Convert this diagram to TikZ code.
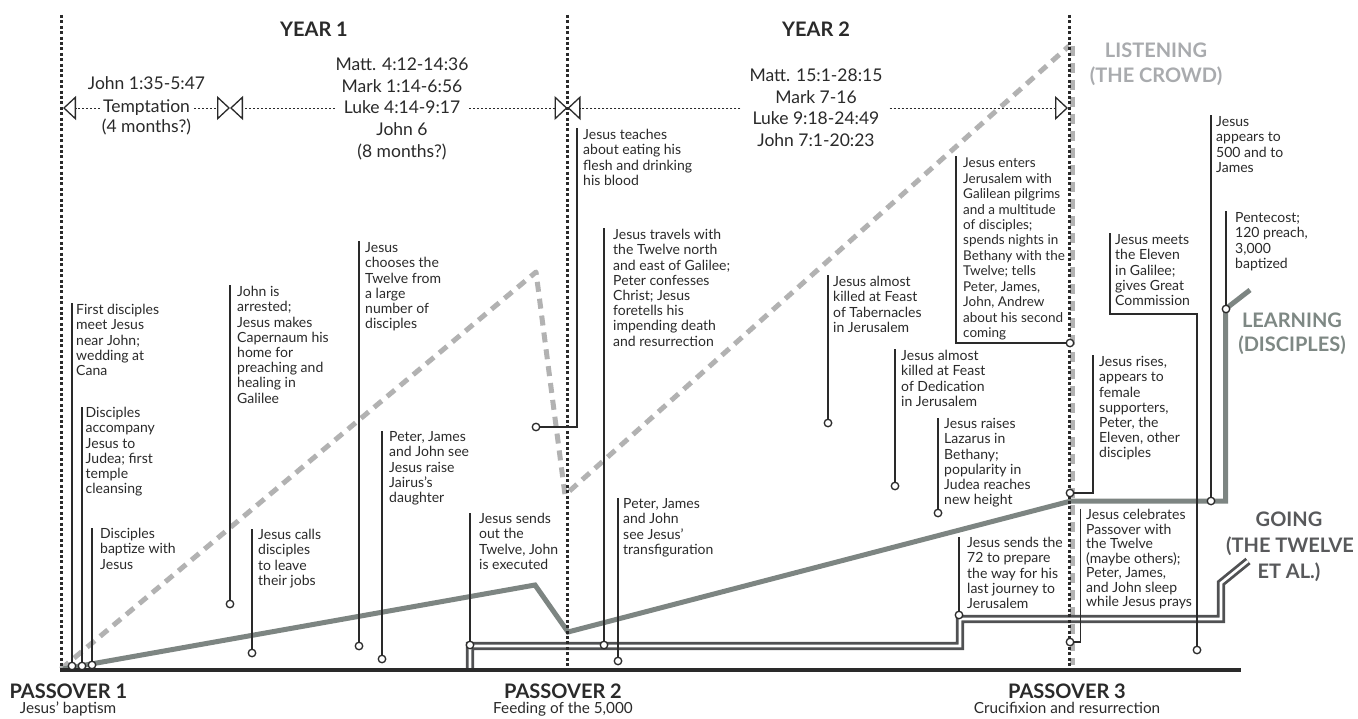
\documentclass[tikz,border=0pt]{standalone}
\usepackage{fontspec}
\setmainfont{Lato}
\usetikzlibrary{arrows.meta}
\definecolor{ink}{HTML}{2A2A2A}
\definecolor{learnc}{HTML}{7D8582}
\definecolor{crowdc}{HTML}{B2B2B2}
\definecolor{goc}{HTML}{505153}
\definecolor{learntxt}{HTML}{7E8884}
\definecolor{crowdtxt}{HTML}{A9ABAE}
\definecolor{gotxt}{HTML}{58595B}
\newcommand{\fl}{\rule{0pt}{11pt}}
\begin{document}
\begin{tikzpicture}[x=1pt,y=-1pt,
  evtext/.style={anchor=north west, inner sep=0pt, align=left, text=ink, font=\fontsize{14}{15.2}\selectfont},
  reftxt/.style={anchor=base, inner sep=0pt, text=ink, font=\fontsize{17.5}{22}\selectfont},
  ttl/.style={anchor=base, inner sep=0pt, text=ink, font=\bfseries\fontsize{20}{24}\selectfont},
  subtl/.style={anchor=base, inner sep=0pt, text=ink, font=\fontsize{15.3}{17}\selectfont},
  lbl/.style={anchor=base, inner sep=0pt, font=\bfseries\fontsize{20}{24}\selectfont},
  evdot/.style={circle, draw=ink, fill=white, line width=1.3pt, minimum size=7.5pt, inner sep=0pt},
  evstem/.style={draw=ink, line width=1.3pt},
  vdots/.style={draw=ink, line width=3pt, dash pattern=on 3pt off 2.4pt},
  rowarrow/.style={draw=ink, line width=0.9pt, dash pattern=on 2pt off 2pt, -{Triangle[open, length=13pt, width=24pt, line width=1.3pt]}},
  crowd/.style={draw=crowdc, line width=5pt, dash pattern=on 10pt off 7pt, line join=round},
  learn/.style={draw=learnc, line width=5pt, line join=miter},
  going/.style={draw=goc, double=white, line width=2.8pt, double distance=2.6pt}
]
\fill[white] (0,0) rectangle (1358,719);
\useasboundingbox (0,0) rectangle (1358,719);

% --- flow lines ---
\draw[crowd] (61,669) -- (536,272) -- (565,495) -- (1069,46);
\draw[crowd] (1072,46) -- (1072,665);
\draw[learn] (63,669) -- (535,585) -- (568,632) -- (1071,501) -- (1225.5,501) -- (1225.5,309) -- (1250,290);
\draw[going] (470,670) -- (470,646) -- (960,646) -- (960,619) -- (1221,619) -- (1221,583) -- (1248,561);

% --- year dividers and baseline ---
\coordinate (v1t) at (61,15);   \coordinate (v1b) at (61,669);
\coordinate (v2t) at (567.5,15); \coordinate (v2b) at (567.5,669);
\coordinate (v3t) at (1069.5,15); \coordinate (v3b) at (1069.5,669);
\draw[vdots] (v1t) -- (v1b);
\draw[vdots] (v2t) -- (v2b);
\draw[vdots] (v3t) -- (v3b);
\coordinate (bl0) at (60,670); \coordinate (bl1) at (1241,670);
\draw[ink, line width=4pt] (bl0) -- (bl1);

% --- scripture references ---
\node[reftxt] (john1) at (146.5,89.3) {John 1:35-5:47};
\node[reftxt] (tempt) at (146.5,112.7) {Temptation};
\node[reftxt] (four1) at (146.5,132.5) {(4 months?)};
\node[reftxt] (matt1) at (402,70.7) {Matt. 4:12-14:36};
\node[reftxt] (mark1) at (402,92.3) {Mark 1:14-6:56};
\node[reftxt] (luke1) at (402,114) {Luke 4:14-9:17};
\node[reftxt] (john6) at (402,135.7) {John 6};
\node[reftxt] (eight1) at (402,157.3) {(8 months?)};
\node[reftxt] (matt2) at (816,81.7) {Matt. 15:1-28:15};
\node[reftxt] (mark2) at (816,103.3) {Mark 7-16};
\node[reftxt] (luke2) at (816,125) {Luke 9:18-24:49};
\node[reftxt] (john7) at (816,146.7) {John 7:1-20:23};

\coordinate (r0) at (63,108);
\coordinate (r1) at (230,108);
\coordinate (r2) at (567.5,108);
\coordinate (r3) at (1068,108);
\draw[rowarrow] ([xshift=-3pt]tempt.west |- r0) -- (r0);
\draw[rowarrow] ([xshift=4pt]tempt.east |- r0) -- (r1);
\draw[rowarrow] ([xshift=-9pt]luke1.west |- r1) -- (r1);
\draw[rowarrow] ([xshift=9pt]luke1.east |- r2) -- (r2);
\draw[rowarrow] ([xshift=-12pt]luke2.west |- r2) -- (r2);
\draw[rowarrow] ([xshift=10pt]luke2.east |- r3) -- (r3);

% --- titles ---
\node[ttl] (yr1) at (314,36.7) {YEAR 1};
\node[ttl] (yr2) at (816,36.7) {YEAR 2};
\node[ttl, anchor=base west] (pv1) at (9.3,698.3) {PASSOVER 1};
\node[ttl] (pv2) at (563,698.3) {PASSOVER 2};
\node[ttl] (pv3) at (1067,698.3) {PASSOVER 3};
\node[subtl] (s1) at (68,713.5) {Jesus' baptism};
\node[subtl] (s2) at (563,713.5) {Feeding of the 5,000};
\node[subtl] (s3) at (1067,713.5) {Crucifixion and resurrection};

\node[lbl, text=crowdtxt] (ls1) at (1156,57.3) {LISTENING};
\node[lbl, text=crowdtxt] (ls2) at (1156,82.7) {(THE CROWD)};
\node[lbl, text=learntxt] (le1) at (1292,327.3) {LEARNING};
\node[lbl, text=learntxt] (le2) at (1292,351.7) {(DISCIPLES)};
\node[lbl, text=gotxt] (go1) at (1289,526.7) {GOING};
\node[lbl, text=gotxt] (go2) at (1290,552.7) {(THE TWELVE};
\node[lbl, text=gotxt] (go3) at (1289,578.3) {ET AL.)};

% --- event texts ---
\node[evtext] (t1) at (76,303.5) {\fl First disciples\\meet Jesus\\near John;\\wedding at\\Cana};
\node[evtext] (t2) at (85.5,406.5) {\fl Disciples\\accompany\\Jesus to\\Judea; first\\temple\\cleansing};
\node[evtext] (t3) at (100,527.5) {\fl Disciples\\baptize with\\Jesus};
\node[evtext] (t4) at (237,285.5) {\fl John is\\arrested;\\Jesus makes\\Capernaum his\\home for\\preaching and\\healing in\\Galilee};
\node[evtext] (t5) at (258,528.5) {\fl Jesus calls\\disciples\\to leave\\their jobs};
\node[evtext] (t6) at (365,241.5) {\fl Jesus\\chooses the\\Twelve from\\a large\\number of\\disciples};
\node[evtext] (t7) at (389,430.5) {\fl Peter, James\\and John see\\Jesus raise\\Jairus's\\daughter};
\node[evtext] (t8) at (479,512.5) {\fl Jesus sends\\out the\\Twelve, John\\is executed};
\node[evtext] (t9) at (583,128.5) {\fl Jesus teaches\\about eating his\\flesh and drinking\\his blood};
\node[evtext] (t10) at (613,228.5) {\fl Jesus travels with\\the Twelve north\\and east of Galilee;\\Peter confesses\\Christ; Jesus\\foretells his\\impending death\\and resurrection};
\node[evtext] (t11) at (623,497.5) {\fl Peter, James\\and John\\see Jesus'\\transfiguration};
\node[evtext] (t12) at (833,275.5) {\fl Jesus almost\\killed at Feast\\of Tabernacles\\in Jerusalem};
\node[evtext] (t13) at (901,349.5) {\fl Jesus almost\\killed at Feast\\of Dedication\\in Jerusalem};
\node[evtext] (t14) at (944,417.5) {\fl Jesus raises\\Lazarus in\\Bethany;\\popularity in\\Judea reaches\\new height};
\node[evtext, font=\fontsize{13.5}{15.45}\selectfont] (t15) at (963,156.5) {\fl Jesus enters\\Jerusalem with\\Galilean pilgrims\\and a multitude\\of disciples;\\spends nights in\\Bethany with the\\Twelve; tells\\Peter, James,\\John, Andrew\\about his second\\coming};
\node[evtext] (t16) at (967,536.5) {\fl Jesus sends the\\72 to prepare\\the way for his\\last journey to\\Jerusalem};
\node[evtext, font=\fontsize{14}{14.5}\selectfont] (t17) at (1086,508.5) {\fl Jesus celebrates\\Passover with\\the Twelve\\(maybe others);\\Peter, James,\\and John sleep\\while Jesus prays};
\node[evtext] (t18) at (1099,355.5) {\fl Jesus rises,\\appears to\\female\\supporters,\\Peter, the\\Eleven, other\\disciples};
\node[evtext] (t19) at (1115,233.5) {\fl Jesus meets\\the Eleven\\in Galilee;\\gives Great\\Commission};
\node[evtext] (t20) at (1216,115.5) {\fl Jesus\\appears to\\500 and to\\James};
\node[evtext] (t21) at (1235,211.5) {\fl Pentecost;\\120 preach,\\3,000\\baptized};

% --- event markers ---
\node[evdot] (c1) at (72,666) {};
\node[evdot] (c2) at (82,666) {};
\node[evdot] (c3) at (92,665) {};
\node[evdot] (c4) at (230,604) {};
\node[evdot] (c5) at (252,653) {};
\node[evdot] (c6) at (359,646) {};
\node[evdot] (c7) at (382,659) {};
\node[evdot] (c8) at (470,645) {};
\node[evdot] (c9) at (536,427) {};
\node[evdot] (c10) at (604,645) {};
\node[evdot] (c11) at (618,661) {};
\node[evdot] (c12) at (828,423) {};
\node[evdot] (c13) at (895,486) {};
\node[evdot] (c14) at (938,513) {};
\node[evdot] (c15) at (1070,343) {};
\node[evdot] (c16) at (959,615) {};
\node[evdot] (c17) at (1070,642) {};
\node[evdot] (c18) at (1070,493) {};
\node[evdot] (c19) at (1197,650) {};
\node[evdot] (c20) at (1211,501) {};
\node[evdot] (c21) at (1226,309) {};
\coordinate (k19) at (1197,314);

% --- stems ---
\draw[evstem] (c1) -- (c1 |- t1.north);
\draw[evstem] (c2) -- (c2 |- t2.north);
\draw[evstem] (c3) -- (c3 |- t3.north);
\draw[evstem] (c4) -- (c4 |- t4.north);
\draw[evstem] (c5) -- (c5 |- t5.north);
\draw[evstem] (c6) -- (c6 |- t6.north);
\draw[evstem] (c7) -- (c7 |- t7.north);
\draw[evstem] (c8) -- (c8 |- t8.north);
\draw[evstem] ([xshift=-6pt]t9.north west) |- (c9);
\draw[evstem] (c10) -- (c10 |- t10.north);
\draw[evstem] (c11) -- (c11 |- t11.north);
\draw[evstem] (c12) -- (c12 |- t12.north);
\draw[evstem] (c13) -- (c13 |- t13.north);
\draw[evstem] (c14) -- (c14 |- t14.north);
\draw[evstem] ([xshift=-7pt]t15.north west) |- (c15);
\draw[evstem] (c16) -- (c16 |- t16.north);
\draw[evstem] ([xshift=-5.5pt]t17.north west) |- (c17);
\draw[evstem] ([xshift=-6pt]t18.north west) |- (c18);
\draw[evstem] ([xshift=-5pt]t19.north west) |- (k19) -- (c19);
\draw[evstem] (c20) -- (c20 |- t20.north);
\draw[evstem] (c21) -- (c21 |- t21.north);
\end{tikzpicture}
\end{document}
